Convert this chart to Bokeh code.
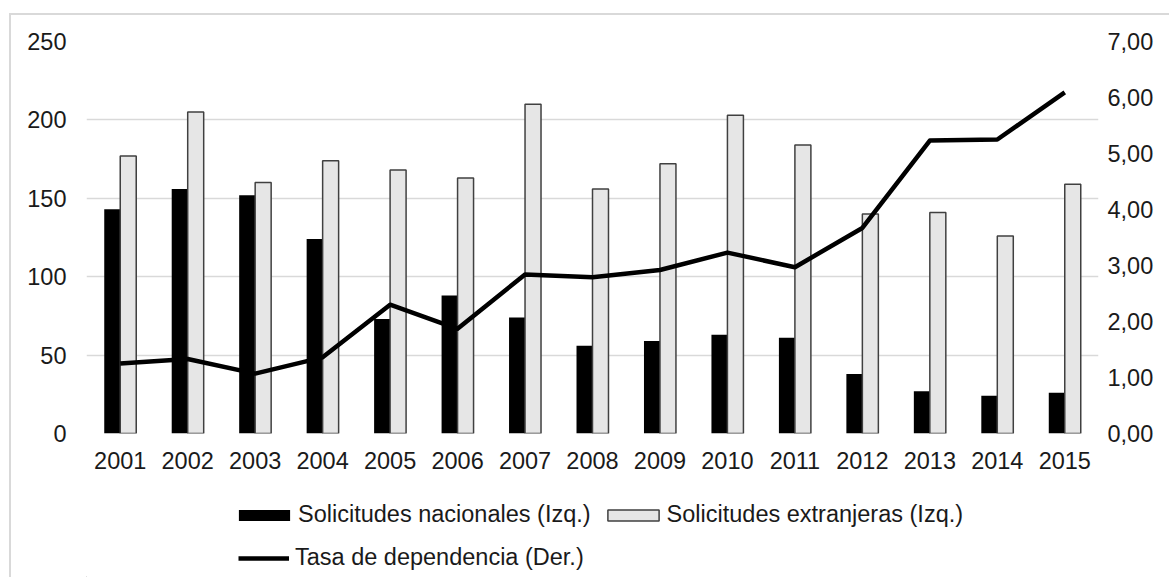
from bokeh.plotting import figure
from bokeh.layouts import column
from bokeh.models import (FactorRange, Range1d, LinearAxis, FixedTicker, Legend,
                          LegendItem, ColumnDataSource)
from bokeh.transform import dodge
from bokeh.embed import file_html
from bokeh.resources import INLINE

years = ["2001", "2002", "2003", "2004", "2005", "2006", "2007", "2008",
         "2009", "2010", "2011", "2012", "2013", "2014", "2015"]
nacionales = [143, 156, 152, 124, 73, 88, 74, 56, 59, 63, 61, 38, 27, 24, 26]
extranjeras = [177, 205, 160, 174, 168, 163, 210, 156, 172, 203, 184, 140, 141, 126, 159]
tasa = [1.25, 1.33, 1.07, 1.36, 2.30, 1.87, 2.84, 2.79, 2.92, 3.23, 2.97, 3.67, 5.23, 5.25, 6.09]

left_ticks = [0, 50, 100, 150, 200, 250]
right_ticks = [0, 1, 2, 3, 4, 5, 6, 7]
right_labels = ["0,00", "1,00", "2,00", "3,00", "4,00", "5,00", "6,00", "7,00"]
legend_labels = ["Solicitudes nacionales (Izq.)", "Solicitudes extranjeras (Izq.)",
                 "Tasa de dependencia (Der.)"]

FONT = "Liberation Sans"
FS = "23.5px"
TXT = "#1a1a1a"
BLACK = "#000000"
GREY = "#e6e6e6"
EDGE = "#404040"

src = ColumnDataSource(dict(year=years, nac=nacionales, ext=extranjeras, tasa=tasa))

p = figure(x_range=FactorRange(*years), y_range=Range1d(0, 250),
           width=1160, height=475, output_backend="svg", toolbar_location=None,
           min_border_left=75, min_border_right=73, min_border_top=26,
           min_border_bottom=57,
           margin=(13, 0, 0, 9),
           styles={"border-top": "2px solid #d9d9d9",
                   "border-left": "2px solid #d9d9d9"})
p.outline_line_color = None
p.x_range.range_padding = 0

p.extra_y_ranges = {"r": Range1d(0, 7)}

p.xaxis.axis_line_color = None
p.xaxis.major_tick_line_color = None
p.xaxis.minor_tick_line_color = None
p.xaxis.major_tick_out = 0
p.xaxis.major_tick_in = 0
p.xaxis.major_label_standoff = 18
p.xaxis.major_label_text_font = FONT
p.xaxis.major_label_text_font_size = FS
p.xaxis.major_label_text_color = TXT

p.yaxis.ticker = FixedTicker(ticks=left_ticks)
p.yaxis.axis_line_color = None
p.yaxis.major_tick_line_color = None
p.yaxis.minor_tick_line_color = None
p.yaxis.major_tick_out = 0
p.yaxis.major_tick_in = 0
p.yaxis.minor_tick_out = 0
p.yaxis.major_label_standoff = 20
p.yaxis.major_label_text_font = FONT
p.yaxis.major_label_text_font_size = FS
p.yaxis.major_label_text_color = TXT

rax = LinearAxis(y_range_name="r", ticker=FixedTicker(ticks=right_ticks),
                 major_label_overrides={t: l for t, l in zip(right_ticks, right_labels)})
rax.axis_line_color = None
rax.major_tick_line_color = None
rax.minor_tick_line_color = None
rax.major_tick_out = 0
rax.major_tick_in = 0
rax.minor_tick_out = 0
rax.major_label_standoff = 9
rax.major_label_text_font = FONT
rax.major_label_text_font_size = FS
rax.major_label_text_color = TXT
p.add_layout(rax, "right")

p.xgrid.visible = False
p.ygrid.ticker = FixedTicker(ticks=left_ticks)
p.ygrid.grid_line_color = "#d9d9d9"
p.ygrid.grid_line_width = 1.5

p.vbar(x=dodge("year", -0.1185, range=p.x_range), top="nac", width=0.237,
       source=src, fill_color=BLACK, line_color=None)
p.vbar(x=dodge("year", 0.1185, range=p.x_range), top="ext", width=0.237,
       source=src, fill_color=GREY, line_color=EDGE, line_width=1.5)
p.line(x="year", y="tasa", source=src, y_range_name="r", line_width=4.5,
       line_color=BLACK, line_join="round")

# legend figure (same glyph styles as the chart); its dummy glyphs lie outside its ranges
pl = figure(width=1160, height=89, output_backend="svg", toolbar_location=None,
            x_range=Range1d(0, 1), y_range=Range1d(0, 1),
            min_border=0, margin=(0, 0, 0, 9),
            styles={"border-left": "2px solid #d9d9d9"})
pl.axis.visible = False
pl.grid.visible = False
pl.outline_line_color = None
dummy = ColumnDataSource(dict(x=[-10, -9], y=[-10, -9], top=[-10, -9]))
l1 = pl.vbar(x="x", top="top", width=0.1, source=dummy, fill_color=BLACK, line_color=None)
l2 = pl.vbar(x="x", top="top", width=0.1, source=dummy, fill_color=GREY,
             line_color=EDGE, line_width=1.5)
l3 = pl.line(x="x", y="y", source=dummy, line_width=4.5, line_color=BLACK)

common = dict(padding=0, margin=0, border_line_color=None, background_fill_alpha=0,
              label_text_font=FONT, label_text_font_size=FS, label_text_color=TXT,
              label_height=29, orientation="horizontal")

legend_bars = Legend(items=[LegendItem(label=legend_labels[0], renderers=[l1]),
                            LegendItem(label=legend_labels[1], renderers=[l2])],
                     location=(146, 48), glyph_width=64, glyph_height=14,
                     label_standoff=2, spacing=10, **common)
legend_line = Legend(items=[LegendItem(label=legend_labels[2], renderers=[l3])],
                     location=(152, 5), glyph_width=51, glyph_height=14,
                     label_standoff=6, spacing=10, **common)
pl.add_layout(legend_bars, "center")
pl.add_layout(legend_line, "center")

layout = column(p, pl, spacing=0)
open("out.html", "w").write(file_html(layout, INLINE))
